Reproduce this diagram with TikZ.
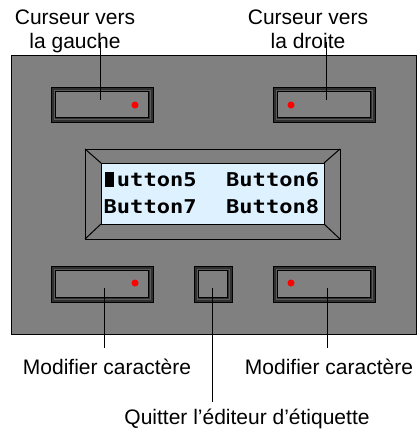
\documentclass[tikz,border=0pt]{standalone}
\usepackage{fontspec}
\setmainfont{Liberation Sans}
\newfontfamily\lcdfont[FakeStretch=1.16]{DejaVu Sans Mono}
\definecolor{panelgray}{HTML}{808080}
\definecolor{banddark}{HTML}{303030}
\definecolor{bandlight}{HTML}{5A5A5A}
\definecolor{lcdblue}{HTML}{DDF1FF}
\begin{document}
\begin{tikzpicture}[x=1pt,y=-1pt,
  lbl/.style={font=\fontsize{21}{24}\selectfont, inner sep=0pt, align=center},
  lcd/.style={font=\lcdfont\bfseries\fontsize{19}{22}\selectfont, inner sep=0pt, anchor=base west},
  conn/.style={draw=black, line width=1pt},
  reddot/.style={fill=red, draw=none}]
\useasboundingbox (0,0) rectangle (416,432);
% panel
\node[draw=black, line width=1.2pt, fill=panelgray, minimum width=405pt, minimum height=279pt, inner sep=0pt, anchor=north west] (panel) at (10.5,54.5) {};
% buttons
\foreach \nm/\xa/\ya/\xb/\yb in {btl/51/87/153/122, btr/273/87/375/122, bbl/51/266/153/302, bbm/194/266/232/302, bbr/273/266/375/302}{
  \fill[banddark] (\xa,\ya) rectangle (\xb,\yb);
  \draw[black, line width=1pt] (\xa,\ya) rectangle (\xb,\yb);
  \draw[bandlight, line width=1pt] (\xa+3,\ya+3) rectangle (\xb-3,\yb-3);
  \draw[black, fill=panelgray, line width=1pt] (\xa+4.5,\ya+4.5) rectangle (\xb-4.5,\yb-4.5);
  \coordinate (\nm) at ({(\xa+\xb)/2},{(\ya+\yb)/2});
}
\fill[reddot] (135,105) circle (3.5);
\fill[reddot] (291,105) circle (3.5);
\fill[reddot] (135,283) circle (3.5);
\fill[reddot] (291,283) circle (3.5);
% display
\draw[black, fill=panelgray, line width=1pt] (85,149) rectangle (340,239);
\draw[black, fill=lcdblue, line width=1pt] (101,163) rectangle (324,224);
\draw[black, line width=1pt] (85,149) -- (101,163) (340,149) -- (324,163) (85,239) -- (101,224) (340,239) -- (324,224);
\fill[black] (104.5,172) rectangle (113.5,187);
\node[lcd] (r1a) at (103.5,186) {\phantom{B}utton5};
\node[lcd] (r1b) at (226,186) {Button6};
\node[lcd] (r2a) at (103.5,213) {Button7};
\node[lcd] (r2b) at (226,213) {Button8};
% labels
\node[lbl, anchor=base] (ltl) at (75,48) {Curseur vers\\la gauche};
\node[lbl, anchor=base] (ltr) at (308,48) {Curseur vers\\la droite};
\node[lbl, anchor=base] (lbl1) at (107,374) {Modifier caractère};
\node[lbl, anchor=base] (lbr) at (329,374) {Modifier caractère};
\node[lbl, anchor=base] (lbm) at (247,424) {Quitter l’éditeur d’étiquette};
% connectors
\coordinate (c1t) at (100,42); \coordinate (c1b) at (100,100);
\coordinate (c2t) at (326,42); \coordinate (c2b) at (326,100);
\coordinate (c3t) at (104,288); \coordinate (c3b) at (104,348);
\coordinate (c4t) at (212,288); \coordinate (c4b) at (212,402);
\coordinate (c5t) at (327,288); \coordinate (c5b) at (327,348);
\draw[conn] (c1t) -- (c1b);
\draw[conn] (c2t) -- (c2b);
\draw[conn] (c3t) -- (c3b);
\draw[conn] (c4t) -- (c4b);
\draw[conn] (c5t) -- (c5b);
\end{tikzpicture}
\end{document}
